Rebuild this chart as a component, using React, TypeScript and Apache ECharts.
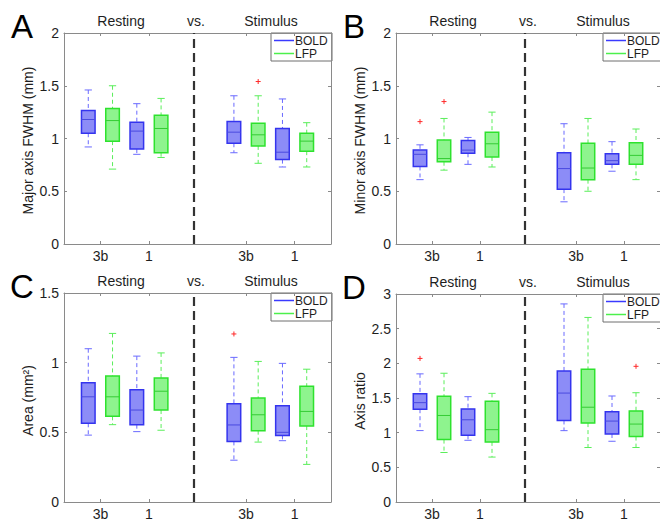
import React, { useEffect, useRef } from 'react';
import * as echarts from 'echarts';

// ---------- data ----------
const boxPositions = [1, 2, 3, 4, 7, 8, 9, 10];
const boxGroups = [0, 1, 0, 1, 0, 1, 0, 1]; // 0 = BOLD, 1 = LFP
const seriesNames = ['BOLD', 'LFP'];
const xTickPositions = [1.5, 3.5, 7.5, 9.5];
const xTickLabels = ['3b', '1', '3b', '1'];
const conditionLabels = ['Resting', 'vs.', 'Stimulus'];
const dividerPosition = 5.35;

// each box: [lower whisker, Q1, median, Q3, upper whisker]
const majorAxisBoxes = [
  [0.92, 1.05, 1.18, 1.265, 1.46],
  [0.71, 0.975, 1.17, 1.285, 1.5],
  [0.85, 0.9, 1.07, 1.155, 1.33],
  [0.82, 0.865, 1.095, 1.22, 1.38],
  [0.865, 0.955, 1.06, 1.16, 1.405],
  [0.765, 0.93, 1.035, 1.145, 1.405],
  [0.73, 0.8, 0.87, 1.095, 1.375],
  [0.73, 0.88, 0.975, 1.05, 1.15],
];
const majorAxisOutliers = [[8, 1.54]];

const minorAxisBoxes = [
  [0.61, 0.735, 0.85, 0.89, 0.94],
  [0.7, 0.78, 0.81, 0.985, 1.19],
  [0.755, 0.86, 0.89, 0.98, 1.01],
  [0.73, 0.825, 0.95, 1.06, 1.25],
  [0.4, 0.52, 0.715, 0.865, 1.14],
  [0.5, 0.61, 0.72, 0.955, 1.19],
  [0.69, 0.755, 0.79, 0.855, 0.97],
  [0.61, 0.755, 0.84, 0.96, 1.09],
];
const minorAxisOutliers = [[1, 1.16], [2, 1.35]];

const areaBoxes = [
  [0.48, 0.565, 0.755, 0.855, 1.1],
  [0.555, 0.615, 0.755, 0.905, 1.21],
  [0.505, 0.555, 0.66, 0.805, 1.047],
  [0.515, 0.66, 0.795, 0.89, 1.07],
  [0.3, 0.435, 0.553, 0.706, 1.038],
  [0.43, 0.512, 0.626, 0.746, 1.009],
  [0.44, 0.478, 0.5, 0.69, 0.995],
  [0.27, 0.545, 0.65, 0.83, 0.953],
];
const areaOutliers = [[7, 1.206]];

const axisRatioBoxes = [
  [1.03, 1.338, 1.433, 1.562, 1.848],
  [0.714, 0.9, 1.248, 1.524, 1.857],
  [0.89, 0.962, 1.186, 1.343, 1.519],
  [0.648, 0.867, 1.043, 1.452, 1.567],
  [1.029, 1.176, 1.571, 1.89, 2.857],
  [0.786, 1.138, 1.367, 1.914, 2.662],
  [0.876, 0.981, 1.167, 1.3, 1.529],
  [0.786, 0.943, 1.124, 1.314, 1.576],
];
const axisRatioOutliers = [[1, 2.071], [10, 1.957]];

// ---------- styling / layout ----------
const FONT = '"Liberation Sans", Arial, Helvetica, sans-serif';
const TEXT = '#1e1e1e';
const AXIS = '#8a8a8a';
const palette = [
  { stroke: '#3434ee', fill: 'rgba(45,45,240,0.55)', whisker: '#6a6aff', median: '#4a4ae0', legend: '#3a3aff' },
  { stroke: '#2ee22e', fill: 'rgba(50,235,50,0.55)', whisker: '#5aee5a', median: '#35cc35', legend: '#4cf04c' },
];

const panels = [
  { letter: 'A', yName: 'Major axis FWHM (mm)', yMax: 2, boxes: majorAxisBoxes, outliers: majorAxisOutliers, left: 64, top: 33, width: 267, height: 211 },
  { letter: 'B', yName: 'Minor axis FWHM (mm)', yMax: 2, boxes: minorAxisBoxes, outliers: minorAxisOutliers, left: 396, top: 33, width: 266, height: 211 },
  { letter: 'C', yName: 'Area (mm²)', yMax: 1.5, boxes: areaBoxes, outliers: areaOutliers, left: 64, top: 293, width: 267, height: 211 },
  { letter: 'D', yName: 'Axis ratio', yMax: 3, boxes: axisRatioBoxes, outliers: axisRatioOutliers, left: 396, top: 294, width: 266, height: 210 },
];

const BOX_W = 0.56;
const CAP_W = 0.3;

function renderBox(params: any, api: any) {
  const x = api.value(0);
  const lo = api.value(1), q1 = api.value(2), med = api.value(3), q3 = api.value(4), hi = api.value(5);
  const c = palette[api.value(6)];
  const half = api.size([BOX_W, 0])[0] / 2;
  const capHalf = api.size([CAP_W, 0])[0] / 2;
  const cx = api.coord([x, lo])[0];
  const yLo = api.coord([x, lo])[1];
  const yQ1 = api.coord([x, q1])[1];
  const yMed = api.coord([x, med])[1];
  const yQ3 = api.coord([x, q3])[1];
  const yHi = api.coord([x, hi])[1];
  const wStyle = { stroke: c.whisker, lineWidth: 1, lineDash: [4, 3] };
  const capStyle = { stroke: c.whisker, lineWidth: 1 };
  return {
    type: 'group',
    children: [
      { type: 'line', shape: { x1: cx, y1: yHi, x2: cx, y2: yQ3 }, style: wStyle },
      { type: 'line', shape: { x1: cx, y1: yQ1, x2: cx, y2: yLo }, style: wStyle },
      { type: 'line', shape: { x1: cx - capHalf, y1: yHi, x2: cx + capHalf, y2: yHi }, style: capStyle },
      { type: 'line', shape: { x1: cx - capHalf, y1: yLo, x2: cx + capHalf, y2: yLo }, style: capStyle },
      { type: 'rect', shape: { x: cx - half, y: yQ3, width: half * 2, height: yQ1 - yQ3 }, style: { fill: c.fill, stroke: c.stroke, lineWidth: 1.5 } },
      { type: 'line', shape: { x1: cx - half, y1: yMed, x2: cx + half, y2: yMed }, style: { stroke: c.median, lineWidth: 1 } },
    ],
  };
}

function renderOutlier(params: any, api: any) {
  const p = api.coord([api.value(0), api.value(1)]);
  const s = 2.5;
  const st = { stroke: '#ff2a2a', lineWidth: 1 };
  return {
    type: 'group',
    children: [
      { type: 'line', shape: { x1: p[0] - s, y1: p[1], x2: p[0] + s, y2: p[1] }, style: st },
      { type: 'line', shape: { x1: p[0], y1: p[1] - s, x2: p[0], y2: p[1] + s }, style: st },
    ],
  };
}

function buildOption() {
  const grid: any[] = [];
  const xAxis: any[] = [];
  const yAxis: any[] = [];
  const series: any[] = [];
  const graphic: any[] = [];

  const tickFmt = (v: number) => {
    const i = xTickPositions.findIndex((p) => Math.abs(p - v) < 1e-6);
    return i >= 0 ? xTickLabels[i] : '';
  };

  panels.forEach((p, i) => {
    grid.push({ left: p.left, top: p.top, width: p.width, height: p.height, containLabel: false });
    const baseX = {
      type: 'value', gridIndex: i, min: 0, max: 11,
      axisLine: { show: true, onZero: false, lineStyle: { color: AXIS, width: 1 } },
      axisTick: { show: true, inside: true, length: 3, customValues: xTickPositions, lineStyle: { color: AXIS } },
      splitLine: { show: false },
    };
    xAxis.push({ ...baseX, position: 'bottom', axisLabel: { show: true, customValues: xTickPositions, formatter: tickFmt, fontSize: 14, color: TEXT, fontFamily: FONT, margin: 5 } });
    xAxis.push({ ...baseX, position: 'top', axisLabel: { show: false } });
    const baseY = {
      type: 'value', gridIndex: i, min: 0, max: p.yMax, interval: 0.5,
      axisLine: { show: true, onZero: false, lineStyle: { color: AXIS, width: 1 } },
      axisTick: { show: true, inside: true, length: 3, lineStyle: { color: AXIS } },
      splitLine: { show: false },
    };
    yAxis.push({ ...baseY, position: 'left', axisLabel: { show: true, fontSize: 14, color: TEXT, fontFamily: FONT, margin: 5 } });
    yAxis.push({ ...baseY, position: 'right', axisLabel: { show: false } });

    series.push({
      type: 'custom',
      name: 'boxes' + p.letter,
      xAxisIndex: 2 * i,
      yAxisIndex: 2 * i,
      renderItem: renderBox,
      encode: { x: 0, y: [1, 2, 3, 4, 5] },
      data: p.boxes.map((b, k) => [boxPositions[k], ...b, boxGroups[k]]),
      clip: false,
      markLine: {
        silent: true,
        symbol: ['none', 'none'],
        label: { show: false },
        lineStyle: { type: [9, 5], color: '#333333', width: 2.2 },
        data: [{ xAxis: dividerPosition }],
      },
    });
    series.push({
      type: 'custom',
      name: 'outliers' + p.letter,
      xAxisIndex: 2 * i,
      yAxisIndex: 2 * i,
      renderItem: renderOutlier,
      encode: { x: 0, y: 1 },
      data: p.outliers,
    });

    // panel letter
    graphic.push({
      type: 'text', x: p.left - 42, y: p.top - 7,
      style: { text: p.letter, fontSize: 33, fontFamily: FONT, fill: '#000', align: 'center', verticalAlign: 'middle' },
    });
    // condition titles
    const titleX = [p.left + 57, p.left + 132, p.left + 207];
    conditionLabels.forEach((t, k) => {
      graphic.push({
        type: 'text', x: titleX[k], y: p.top - 12,
        style: { text: t, fontSize: 14, fontFamily: FONT, fill: TEXT, align: 'center', verticalAlign: 'middle' },
      });
    });
    // y-axis name
    graphic.push({
      type: 'text', x: p.left - 36, y: p.top + p.height / 2 + 2, rotation: Math.PI / 2,
      style: { text: p.yName, fontSize: 14, fontFamily: FONT, fill: TEXT, align: 'center', verticalAlign: 'middle' },
    });
    // legend
    const lx = p.left + 207;
    const ly = p.top;
    graphic.push({
      type: 'group', x: lx, y: ly,
      children: [
        { type: 'rect', shape: { x: 0, y: 0, width: 61, height: 28 }, style: { fill: '#fff', stroke: '#6e6e6e', lineWidth: 1 } },
        ...seriesNames.flatMap((n, k) => [
          { type: 'line', shape: { x1: 3, y1: 7.5 + 13 * k, x2: 23, y2: 7.5 + 13 * k }, style: { stroke: palette[k].legend, lineWidth: 1.5 } },
          { type: 'text', x: 24, y: 7.5 + 13 * k, style: { text: n, fontSize: 12, lineHeight: 12, fontFamily: FONT, fill: TEXT, align: 'left', verticalAlign: 'middle' } },
        ]),
      ],
    });
  });

  return { animation: false, backgroundColor: '#ffffff', grid, xAxis, yAxis, series, graphic };
}

export default function App() {
  const ref = useRef<HTMLDivElement>(null);
  useEffect(() => {
    if (!ref.current) return;
    const chart = echarts.init(ref.current, undefined, { renderer: 'svg' });
    chart.setOption(buildOption() as any);
    return () => chart.dispose();
  }, []);
  return <div ref={ref} style={{ position: 'absolute', left: 0, top: 0, width: 660, height: 521, background: '#fff' }} />;
}
